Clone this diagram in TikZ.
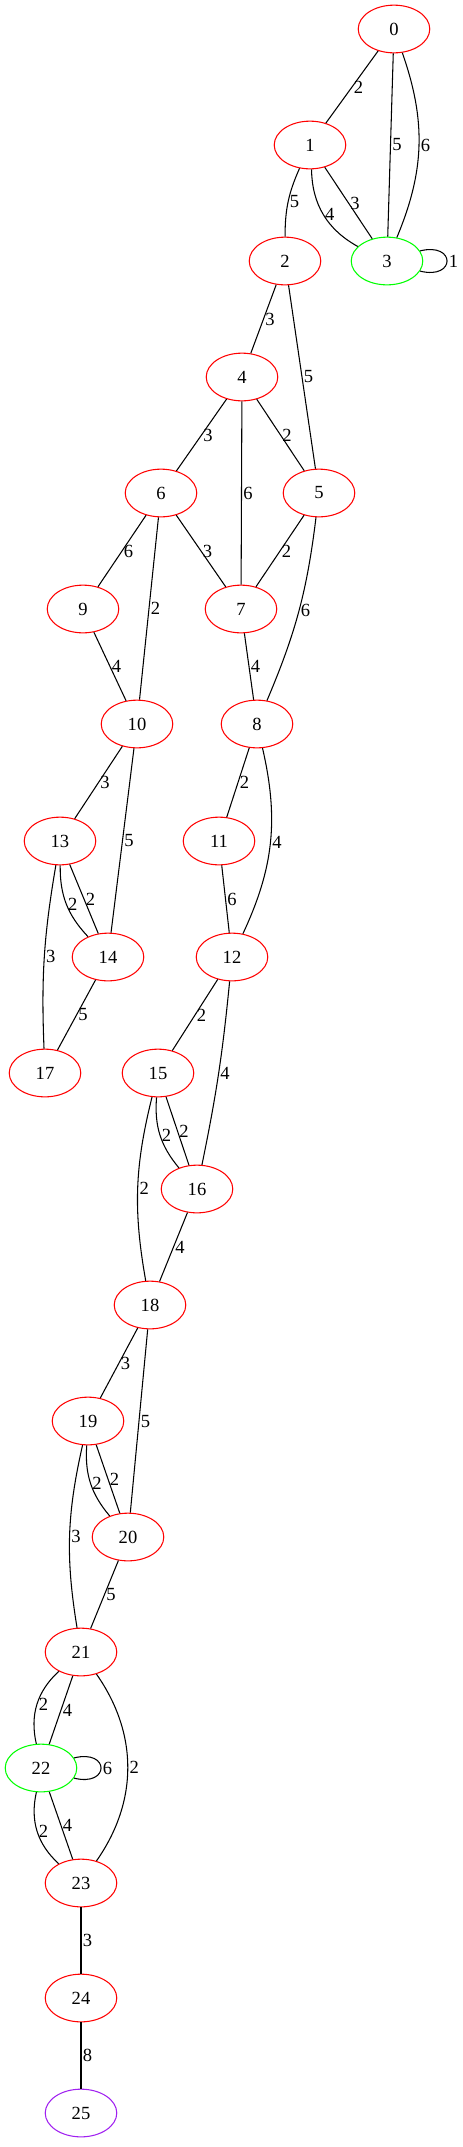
\documentclass[tikz,border=0pt]{standalone}
\usepackage{fontspec}
\setmainfont{Liberation Serif}
\usetikzlibrary{shapes.geometric}
\definecolor{gvgreen}{HTML}{00FF00}
\definecolor{gvpurple}{HTML}{A020F0}

\begin{document}
\begin{tikzpicture}
[x=0.7547pt,y=-0.7547pt,
 vertex/.style={ellipse,draw=red,line width=0.8pt,minimum width=54pt,
    minimum height=36pt,inner sep=0pt,font=\fontsize{14}{16}\selectfont},
 start/.style={vertex,draw=gvgreen},
 goal/.style={vertex,draw=gvpurple},
 wt/.style={right,inner sep=1pt,font=\fontsize{14}{16}\selectfont},
 every path/.style={line width=0.8pt}]
\useasboundingbox (0,0) rectangle (463,2147);

\node[vertex] (0) at (394,29) {0};
\node[vertex] (1) at (310,145) {1};
\node[vertex] (2) at (285,261) {2};
\node[start] (3) at (387,261) {3};
\node[vertex] (4) at (242,377) {4};
\node[vertex] (5) at (319,493) {5};
\node[vertex] (6) at (161,493) {6};
\node[vertex] (7) at (241,609) {7};
\node[vertex] (8) at (257,724) {8};
\node[vertex] (9) at (83,609) {9};
\node[vertex] (10) at (137,724) {10};
\node[vertex] (11) at (219,841) {11};
\node[vertex] (12) at (232,957) {12};
\node[vertex] (13) at (60,841) {13};
\node[vertex] (14) at (108,957) {14};
\node[vertex] (15) at (158,1073) {15};
\node[vertex] (16) at (197,1189) {16};
\node[vertex] (17) at (45,1073) {17};
\node[vertex] (18) at (150,1305) {18};
\node[vertex] (19) at (88,1421) {19};
\node[vertex] (20) at (128,1537) {20};
\node[vertex] (21) at (81,1652) {21};
\node[start] (22) at (41,1768) {22};
\node[vertex] (23) at (81,1883) {23};
\node[vertex] (24) at (81,1998) {24};
\node[goal] (25) at (81,2113) {25};

\draw [-] (0) -- node[wt] {2} (1);
\draw [-] (0) -- node[wt] {5} (3);
\draw [-] (0) to[bend left=21] node[wt] {6} (3);
\draw [-] (1) to[bend right=12] node[wt] {5} (2);
\draw [-] (1) to[bend right=30] node[wt] {4} (3);
\draw [-] (1) -- node[wt] {3} (3);
\draw [-] (3.17) .. controls +(36,-9) and +(36,9) .. node[wt] {1} (3.-17);
\draw [-] (2) -- node[wt] {3} (4);
\draw [-] (2) -- node[wt] {5} (5);
\draw [-] (4) -- node[wt] {3} (6);
\draw [-] (4) -- node[wt] {6} (7);
\draw [-] (4) -- node[wt] {2} (5);
\draw [-] (6) -- node[wt] {6} (9);
\draw [-] (6) -- node[wt] {2} (10);
\draw [-] (6) -- node[wt] {3} (7);
\draw [-] (5) -- node[wt] {2} (7);
\draw [-] (5) to[bend left=8] node[wt] {6} (8);
\draw [-] (9) -- node[wt] {4} (10);
\draw [-] (7) -- node[wt] {4} (8);
\draw [-] (10) -- node[wt] {3} (13);
\draw [-] (10) -- node[wt] {5} (14);
\draw [-] (8) -- node[wt] {2} (11);
\draw [-] (8) to[bend left=19] node[wt] {4} (12);
\draw [-] (13) to[bend right=22] node[wt] {2} (14);
\draw [-] (13) -- node[wt] {2} (14);
\draw [-] (13) to[bend right=6] node[wt] {3} (17);
\draw [-] (11) -- node[wt] {6} (12);
\draw [-] (14) -- node[wt] {5} (17);
\draw [-] (12) -- node[wt] {2} (15);
\draw [-] (12) to[bend left=3] node[wt] {4} (16);
\draw [-] (15) to[bend right=22] node[wt] {2} (16);
\draw [-] (15) -- node[wt] {2} (16);
\draw [-] (15) to[bend right=12] node[wt] {2} (18);
\draw [-] (16) -- node[wt] {4} (18);
\draw [-] (18) -- node[wt] {3} (19);
\draw [-] (18) -- node[wt] {5} (20);
\draw [-] (19) to[bend right=22] node[wt] {2} (20);
\draw [-] (19) -- node[wt] {2} (20);
\draw [-] (19) to[bend right=11] node[wt] {3} (21);
\draw [-] (20) -- node[wt] {5} (21);
\draw [-] (21) to[bend right=30] node[wt] {2} (22);
\draw [-] (21) -- node[wt] {4} (22);
\draw [-] (21) to[bend left=35] node[wt] {2} (23);
\draw [-] (22.17) .. controls +(36,-9) and +(36,9) .. node[wt] {6} (22.-17);
\draw [-] (22) to[bend right=30] node[wt] {2} (23);
\draw [-] (22) -- node[wt] {4} (23);
\draw [-] (23) -- node[wt] {3} (24);
\draw [-] (24) -- node[wt] {8} (25);
\end{tikzpicture}
\end{document}
